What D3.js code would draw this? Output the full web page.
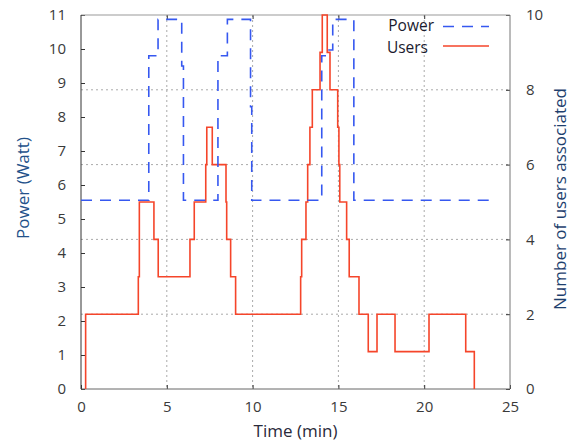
<!DOCTYPE html>
<html>
<head>
<meta charset="utf-8">
<script src="https://cdn.jsdelivr.net/npm/d3@7"></script>
<style>
  body { margin: 0; background: #fff; }
  svg { font-family: "Open Sans", sans-serif; }
  .tick text { fill: #3a3a3a; font-size: 15px; }
  .tick line { stroke: #333; }
</style>
</head>
<body>
<div id="chart"></div>
<script>
// power trace (W), step after each time (min)
const powerTime = [0, 3.95, 4.49, 5.87, 5.97, 7.98, 8.53, 9.88, 9.95, 14.03, 14.4, 14.67, 15.9, 24.0];
const powerWatt = [5.55, 9.8, 10.87, 9.5, 5.55, 9.8, 10.87, 8.3, 5.55, 9.8, 9.97, 10.87, 5.55, 5.55];

// users associated, step after each time (min)
const usersTime = [0.27, 0.27, 3.34, 3.4, 4.25, 4.5, 6.35, 6.6, 7.27, 7.33, 7.65, 8.45, 8.49, 8.72, 9.01,
    12.8, 12.86, 13.11, 13.21, 13.34, 13.48, 13.93, 14.06, 14.35, 14.51, 14.96, 15.03, 15.08, 15.48, 15.63,
    16.2, 16.74, 17.25, 18.3, 20.28, 22.42, 22.92];
const usersCount = [0, 2, 3, 5, 4, 3, 4, 5, 6, 7, 6, 5, 4, 3, 2,
    3, 4, 5, 6, 7, 8, 9, 10, 9, 8, 7, 6, 5, 4, 3,
    2, 1, 2, 1, 2, 1, 0];

const xTicks = [0, 5, 10, 15, 20, 25];
const yTicks = d3.range(0, 12);
const y2Ticks = [0, 2, 4, 6, 8, 10];

const width = 575, height = 443;
const mLeft = 81, mRight = 510, mTop = 15, mBottom = 389;

const svg = d3.select("#chart").append("svg")
    .attr("width", width)
    .attr("height", height);

const x = d3.scaleLinear().domain([0, 25]).range([mLeft, mRight]);
const y = d3.scaleLinear().domain([0, 11]).range([mBottom, mTop]);
const y2 = d3.scaleLinear().domain([0, 10]).range([mBottom, mTop]);

// grid
const grid = svg.append("g")
    .attr("stroke", "#aaa")
    .attr("stroke-dasharray", "2,3");
grid.selectAll(".gx").data(xTicks.slice(1, -1)).enter().append("line")
    .attr("x1", d => x(d)).attr("x2", d => x(d))
    .attr("y1", mTop).attr("y2", mBottom);
grid.selectAll(".gy").data(y2Ticks.slice(1, -1)).enter().append("line")
    .attr("x1", mLeft).attr("x2", mRight)
    .attr("y1", d => y2(d)).attr("y2", d => y2(d));

// axes (ticks point inward)
const gx = svg.append("g").attr("transform", `translate(0,${mBottom})`)
    .call(d3.axisBottom(x).tickValues(xTicks).tickSize(-4).tickSizeOuter(0).tickPadding(12));
const gxTop = svg.append("g").attr("transform", `translate(0,${mTop})`)
    .call(d3.axisTop(x).tickValues(xTicks.slice(1, -1)).tickSize(-4).tickSizeOuter(0).tickFormat(""));
const gy = svg.append("g").attr("transform", `translate(${mLeft},0)`)
    .call(d3.axisLeft(y).tickValues(yTicks).tickSize(-4).tickSizeOuter(0).tickPadding(15));
const gy2 = svg.append("g").attr("transform", `translate(${mRight},0)`)
    .call(d3.axisRight(y2).tickValues(y2Ticks).tickSize(-4).tickSizeOuter(0).tickPadding(16));
[gx, gxTop, gy, gy2].forEach(g => {
    g.select(".domain").remove();
    g.selectAll("text").attr("font-family", "Open Sans").attr("font-size", 15);
});

// frame
svg.append("line").attr("x1", mLeft).attr("x2", mRight).attr("y1", mTop).attr("y2", mTop).attr("stroke", "#999");
svg.append("line").attr("x1", mRight).attr("x2", mRight).attr("y1", mTop).attr("y2", mBottom).attr("stroke", "#777");
svg.append("line").attr("x1", mLeft).attr("x2", mRight).attr("y1", mBottom).attr("y2", mBottom).attr("stroke", "#666");
svg.append("line").attr("x1", mLeft).attr("x2", mLeft).attr("y1", mTop).attr("y2", mBottom).attr("stroke", "#333");

const powerData = powerTime.map((t, i) => [t, powerWatt[i]]);
const usersData = usersTime.map((t, i) => [t, usersCount[i]]);

svg.append("path")
    .datum(usersData)
    .attr("fill", "none")
    .attr("stroke", "#f5452a")
    .attr("stroke-width", 1.6)
    .attr("d", d3.line().curve(d3.curveStepAfter).x(d => x(d[0])).y(d => y2(d[1])));

svg.append("path")
    .datum(powerData)
    .attr("fill", "none")
    .attr("stroke", "#3658f0")
    .attr("stroke-width", 1.6)
    .attr("stroke-dasharray", "11,8")
    .attr("d", d3.line().curve(d3.curveStepAfter).x(d => x(d[0])).y(d => y(d[1])));

// legend
const legend = svg.append("g").attr("font-size", 15.5).attr("fill", "#1a1a2e");
legend.append("text").attr("x", 434).attr("y", 31).attr("text-anchor", "end").text("Power");
legend.append("text").attr("x", 428).attr("y", 52.5).attr("text-anchor", "end").text("Users");
legend.append("line").attr("x1", 443).attr("x2", 489).attr("y1", 26.5).attr("y2", 26.5)
    .attr("stroke", "#3658f0").attr("stroke-width", 1.6).attr("stroke-dasharray", "11,8");
legend.append("line").attr("x1", 443).attr("x2", 489).attr("y1", 46).attr("y2", 46)
    .attr("stroke", "#f5452a").attr("stroke-width", 1.6);

// axis titles
svg.append("text")
    .attr("x", x(12.5)).attr("y", 437)
    .attr("text-anchor", "middle").attr("font-size", 17).attr("fill", "#2a2a3a")
    .text("Time (min)");
svg.append("text")
    .attr("transform", "translate(29,188) rotate(-90)")
    .attr("text-anchor", "middle").attr("font-size", 17).attr("fill", "#23518a")
    .text("Power (Watt)");
svg.append("text")
    .attr("transform", "translate(566,199) rotate(-90)")
    .attr("text-anchor", "middle").attr("font-size", 17).attr("fill", "#1e3f6e")
    .text("Number of users associated");
</script>
</body>
</html>
